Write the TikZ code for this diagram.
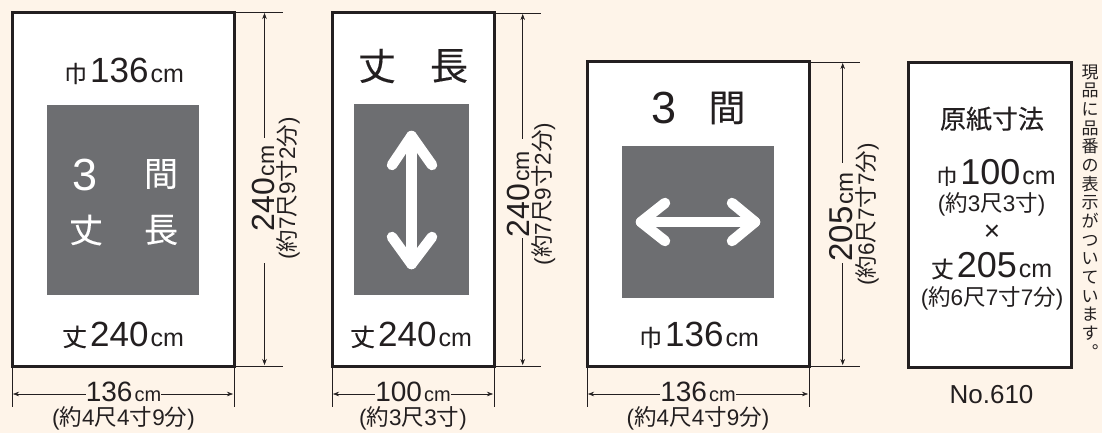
\documentclass[tikz,border=0pt]{standalone}
\usepackage{fontspec}
\setmainfont{Liberation Sans}
\newfontfamily\cjk[FakeBold=0.25]{Noto Sans CJK JP}
\newfontfamily\cjkr{Noto Sans CJK JP}
\usetikzlibrary{arrows.meta}
\definecolor{bgc}{HTML}{FEF4E9}
\definecolor{inkc}{HTML}{231F20}
\definecolor{grayc}{HTML}{6D6E71}
\newcommand{\fsz}[1]{\fontsize{#1}{#1}\selectfont}
\newcommand{\bigdim}[3]{{\fsz{#1}#2}\kern2pt{\fsz{#3}cm}}
\newcommand{\pre}[2]{{\fsz{#1}\cjk #2}\kern3pt}
% annotation in brackets: kanji in the CJK font, digits and brackets in the Latin one
\newcommand{\kj}[1]{{\cjkr #1}}
\newcommand{\sunA}{{\fsz{22.5}(\kj{約}4\kj{尺}4\kj{寸}9\kj{分})}}
\newcommand{\sunB}{{\fsz{22.5}(\kj{約}7\kj{尺}9\kj{寸}2\kj{分})}}
\newcommand{\sunC}{{\fsz{22.5}(\kj{約}3\kj{尺}3\kj{寸})}}
\newcommand{\sunD}{{\fsz{22.5}(\kj{約}6\kj{尺}7\kj{寸}7\kj{分})}}
\tikzset{
 x=1pt,y=-1pt,
 frame/.style={draw=inkc,line width=3pt,fill=white},
 panel/.style={fill=grayc},
 lbl/.style={inner sep=0pt,text=inkc,anchor=center},
 wlbl/.style={inner sep=0pt,text=white,anchor=center},
 rlbl/.style={lbl,rotate=90},
 ext/.style={draw=inkc,line width=0.5pt},
 arrL/.style={draw=inkc,line width=0.5pt,{Stealth[length=6pt,width=4.5pt]}-},
 arrR/.style={draw=inkc,line width=0.5pt,-{Stealth[length=6pt,width=4.5pt]}},
 bigarr/.style={draw=white,line width=10.5pt,line cap=round,line join=round},
}
\begin{document}
\begin{tikzpicture}
\useasboundingbox (0,0) rectangle (1102,433);
\fill[bgc] (0,0) rectangle (1102,433);

% ---------- box 1
\draw[frame] (12.5,12.5) rectangle (234.5,366);
\fill[panel] (47,105) rectangle (199,295);
\node[lbl] (a1) at (124,71) {\pre{23}{巾}\bigdim{35}{136}{25}};
\node[lbl] (a2) at (123,335) {\pre{25}{丈}\bigdim{35}{240}{25}};
\node[wlbl] (a3) at (85,175) {\fsz{45}3};
\node[wlbl] (a4) at (161,174) {\fsz{34}\cjk 間};
\node[wlbl] (a5) at (86,230) {\fsz{34}\cjk 丈};
\node[wlbl] (a6) at (161,230) {\fsz{34}\cjk 長};
\coordinate (r1t) at (235,12.5); \coordinate (r1te) at (283,12.5);
\coordinate (r1b) at (235,366); \coordinate (r1be) at (283,366);
\draw[ext] (r1t)--(r1te); \draw[ext] (r1b)--(r1be);
\node[rlbl] (a7) at (263,188.5) {\bigdim{32}{240}{23}};
\node[rlbl] (a8) at (288,188.5) {\sunB};
\coordinate (r1a) at (264.5,13); \coordinate (r1a2) at (264.5,138);
\coordinate (r1c) at (264.5,263); \coordinate (r1d) at (264.5,365);
\draw[arrL] (r1a)--(r1a2);
\draw[arrR] (r1c)--(r1d);
\coordinate (b1l) at (12.5,366); \coordinate (b1le) at (12.5,407);
\coordinate (b1r) at (234,366); \coordinate (b1re) at (234,407);
\draw[ext] (b1l)--(b1le); \draw[ext] (b1r)--(b1re);
\node[lbl] (a9) at (123.5,391.5) {\bigdim{28}{136}{20}};
\node[lbl] (a10) at (123.5,418) {\sunA};
\coordinate (b1a) at (13,394); \coordinate (b1b) at (233,394);
\draw[arrL] (b1a)--(a9.west|-b1a);
\draw[arrR] (a9.east|-b1a)--(b1b);

% ---------- box 2
\draw[frame] (332.5,13) rectangle (494,366);
\fill[panel] (354,104) rectangle (469,295);
\node[lbl] (b1) at (377,66) {\fsz{38}\cjk 丈};
\node[lbl] (b2) at (449,66) {\fsz{38}\cjk 長};
\node[lbl] (b3) at (411,335) {\pre{25}{丈}\bigdim{35}{240}{25}};
\coordinate (ba1) at (411.5,136); \coordinate (ba2) at (411.5,264);
\coordinate (ba3) at (392,165); \coordinate (ba4) at (432,165);
\coordinate (ba5) at (392,237); \coordinate (ba6) at (432,237);
\draw[bigarr] (ba1)--(ba2);
\draw[bigarr] (ba3)--(ba1)--(ba4);
\draw[bigarr] (ba5)--(ba2)--(ba6);
\coordinate (r2t) at (494,13); \coordinate (r2te) at (541,13);
\coordinate (r2b) at (494,366); \coordinate (r2be) at (541,366);
\draw[ext] (r2t)--(r2te); \draw[ext] (r2b)--(r2be);
\node[rlbl] (b4) at (518,194) {\bigdim{32}{240}{23}};
\node[rlbl] (b5) at (543.5,194) {\sunB};
\coordinate (r2a) at (522.7,14); \coordinate (r2a2) at (522.7,139);
\coordinate (r2c) at (522.7,238); \coordinate (r2d) at (522.7,365);
\draw[arrL] (r2a)--(r2a2);
\draw[arrR] (r2c)--(r2d);
\coordinate (b2l) at (332.5,366); \coordinate (b2le) at (332.5,407);
\coordinate (b2r) at (494,366); \coordinate (b2re) at (494,407);
\draw[ext] (b2l)--(b2le); \draw[ext] (b2r)--(b2re);
\node[lbl] (b6) at (413,391.5) {\bigdim{28}{100}{20}};
\node[lbl] (b7) at (413,418) {\sunC};
\coordinate (b2a) at (333,394); \coordinate (b2b) at (493,394);
\draw[arrL] (b2a)--(b6.west|-b2a);
\draw[arrR] (b6.east|-b2a)--(b2b);

% ---------- box 3
\draw[frame] (587.5,62) rectangle (809,366);
\fill[panel] (622,146) rectangle (774,298);
\node[lbl] (c1) at (664.5,108) {\fsz{45}3};
\node[lbl] (c2) at (727,108) {\fsz{37}\cjk 間};
\node[lbl] (c3) at (699,335) {\pre{23}{巾}\bigdim{35}{136}{25}};
\coordinate (ca1) at (641,222); \coordinate (ca2) at (755,222);
\coordinate (ca3) at (665,203); \coordinate (ca4) at (665,241);
\coordinate (ca5) at (732,203); \coordinate (ca6) at (732,241);
\draw[bigarr] (ca1)--(ca2);
\draw[bigarr] (ca3)--(ca1)--(ca4);
\draw[bigarr] (ca5)--(ca2)--(ca6);
\coordinate (r3t) at (809,62); \coordinate (r3te) at (860,62);
\coordinate (r3b) at (809,366); \coordinate (r3be) at (860,366);
\draw[ext] (r3t)--(r3te); \draw[ext] (r3b)--(r3be);
\node[rlbl] (c4) at (841.5,217) {\bigdim{33}{205}{24}};
\node[rlbl] (c5) at (867,214.5) {\sunD};
\coordinate (r3a) at (842.7,63); \coordinate (r3a2) at (842.7,163);
\coordinate (r3c) at (842.7,263); \coordinate (r3d) at (842.7,365);
\draw[arrL] (r3a)--(r3a2);
\draw[arrR] (r3c)--(r3d);
\coordinate (b3l) at (587.5,366); \coordinate (b3le) at (587.5,407);
\coordinate (b3r) at (809,366); \coordinate (b3re) at (809,407);
\draw[ext] (b3l)--(b3le); \draw[ext] (b3r)--(b3re);
\node[lbl] (c6) at (698,391.5) {\bigdim{28}{136}{20}};
\node[lbl] (c7) at (698,418) {\sunA};
\coordinate (b3a) at (588,394); \coordinate (b3b) at (808,394);
\draw[arrL] (b3a)--(c6.west|-b3a);
\draw[arrR] (c6.east|-b3a)--(b3b);

% ---------- box 4
\draw[frame] (908.5,62.5) rectangle (1071,367);
\node[lbl] (d1) at (992,119) {\fsz{26}\cjk 原紙寸法};
\node[lbl] (d2) at (996,172.5) {\pre{21}{巾}\bigdim{36}{100}{25}};
\node[lbl] (d3) at (991.5,204) {\sunC};
\node[lbl] (d4) at (992,233) {\fsz{28}×};
\node[lbl] (d5) at (991.5,266) {\pre{23}{丈}\bigdim{36}{205}{25}};
\node[lbl] (d6) at (992,298) {\sunD};
\node[lbl] (d7) at (991.5,395) {\fsz{26}No.610};

% ---------- vertical note
\node[lbl,align=center,font=\fontsize{17}{18.67}\selectfont\cjkr] (e1) at (1090,211.5)
 {現\\品\\に\\品\\番\\の\\表\\示\\が\\つ\\い\\て\\い\\ま\\す\\︒};
\end{tikzpicture}
\end{document}
